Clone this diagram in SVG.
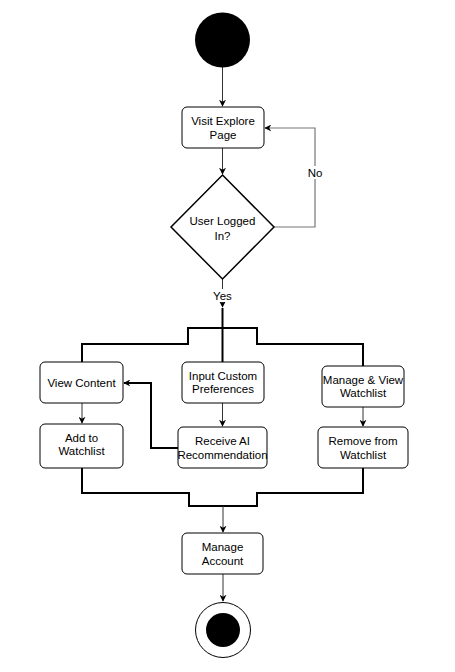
<svg xmlns="http://www.w3.org/2000/svg" width="455" height="672" viewBox="0 0 455 672">
<defs>
<marker id="arr" viewBox="0 0 10 10" refX="9" refY="5" markerWidth="7" markerHeight="7" markerUnits="userSpaceOnUse" orient="auto">
<path d="M0,0 L10,5 L0,10 L3,5 z" fill="#000"/>
</marker>
<style>
.box{fill:#fff;stroke:#000;stroke-width:1}
.t{font-family:"Comic Sans MS","Liberation Sans",sans-serif;font-size:11.5px;fill:#000;text-anchor:middle}
.c{fill:none;stroke:#333;stroke-width:1}
.bar{fill:none;stroke:#000;stroke-width:2}
</style>
</defs>
<rect width="455" height="672" fill="#fff"/>
<g id="connectors">
<line class="c" x1="222.5" y1="67" x2="222.5" y2="106" marker-end="url(#arr)"/>
<line class="c" x1="222.5" y1="148" x2="222.5" y2="174" marker-end="url(#arr)"/>
<path d="M274,227 H315 V128 H265" fill="none" stroke="#777" stroke-width="1.2" marker-end="url(#arr)"/>
<line class="c" x1="222.5" y1="279" x2="222.5" y2="307" marker-end="url(#arr)"/>
<line class="bar" x1="222.5" y1="308" x2="222.5" y2="362"/>
<path class="bar" d="M82,362 V344 H188 V328 H257 V344 H363 V366"/>
<line class="c" x1="82" y1="403" x2="82" y2="423" marker-end="url(#arr)"/>
<line class="c" x1="222.5" y1="403" x2="222.5" y2="426" marker-end="url(#arr)"/>
<line class="c" x1="363" y1="407" x2="363" y2="426" marker-end="url(#arr)"/>
<path d="M178,448 H151 V383 H124" fill="none" stroke="#000" stroke-width="2" marker-end="url(#arr)"/>
<path class="bar" d="M82,468 V493 H189 V506 H257 V493 H363 V468"/>
<line class="c" x1="223" y1="506" x2="223" y2="532" marker-end="url(#arr)"/>
<line class="c" x1="223" y1="574" x2="223" y2="601" marker-end="url(#arr)"/>
</g>
<g id="start"><circle cx="222.5" cy="40" r="27.5" fill="#000"/></g>
<g id="visit"><rect class="box" x="182" y="107" width="82" height="41" rx="5"/><text class="t" x="223" y="125">Visit Explore</text><text class="t" x="223" y="139">Page</text></g>
<g id="decision"><polygon points="222.5,175 274,227 222.5,279 171,227" fill="#fff" stroke="#000" stroke-width="1.5"/><text class="t" x="222.5" y="225">User Logged</text><text class="t" x="222.5" y="240">In?</text></g>
<g id="lbl-no"><rect x="306" y="166" width="18" height="13" fill="#fff"/><text class="t" x="315" y="177">No</text></g>
<g id="lbl-yes"><rect x="210" y="289" width="25" height="13" fill="#fff"/><text class="t" x="222.5" y="300">Yes</text></g>
<g id="view"><rect class="box" x="40" y="362" width="83" height="41" rx="5"/><text class="t" x="81.5" y="387">View Content</text></g>
<g id="input"><rect class="box" x="182" y="362" width="82" height="41" rx="5"/><text class="t" x="223" y="380">Input Custom</text><text class="t" x="223" y="393">Preferences</text></g>
<g id="manage-view"><rect class="box" x="322" y="366" width="82" height="41" rx="5"/><text class="t" x="363" y="384">Manage &amp; View</text><text class="t" x="363" y="397">Watchlist</text></g>
<g id="add"><rect class="box" x="40" y="424" width="83" height="44" rx="5"/><text class="t" x="81.5" y="442">Add to</text><text class="t" x="81.5" y="455">Watchlist</text></g>
<g id="receive"><rect class="box" x="178" y="427" width="89" height="41" rx="5"/><text class="t" x="222.5" y="445">Receive AI</text><text class="t" x="222.5" y="459">Recommendation</text></g>
<g id="remove"><rect class="box" x="318" y="427" width="90" height="41" rx="5"/><text class="t" x="363" y="445">Remove from</text><text class="t" x="363" y="459">Watchlist</text></g>
<g id="account"><rect class="box" x="182" y="533" width="81" height="41" rx="5"/><text class="t" x="222.5" y="551">Manage</text><text class="t" x="222.5" y="565">Account</text></g>
<g id="end"><circle cx="223" cy="630" r="27.5" fill="#fff" stroke="#000" stroke-width="1"/><circle cx="223" cy="630" r="17" fill="#000"/></g>
</svg>
